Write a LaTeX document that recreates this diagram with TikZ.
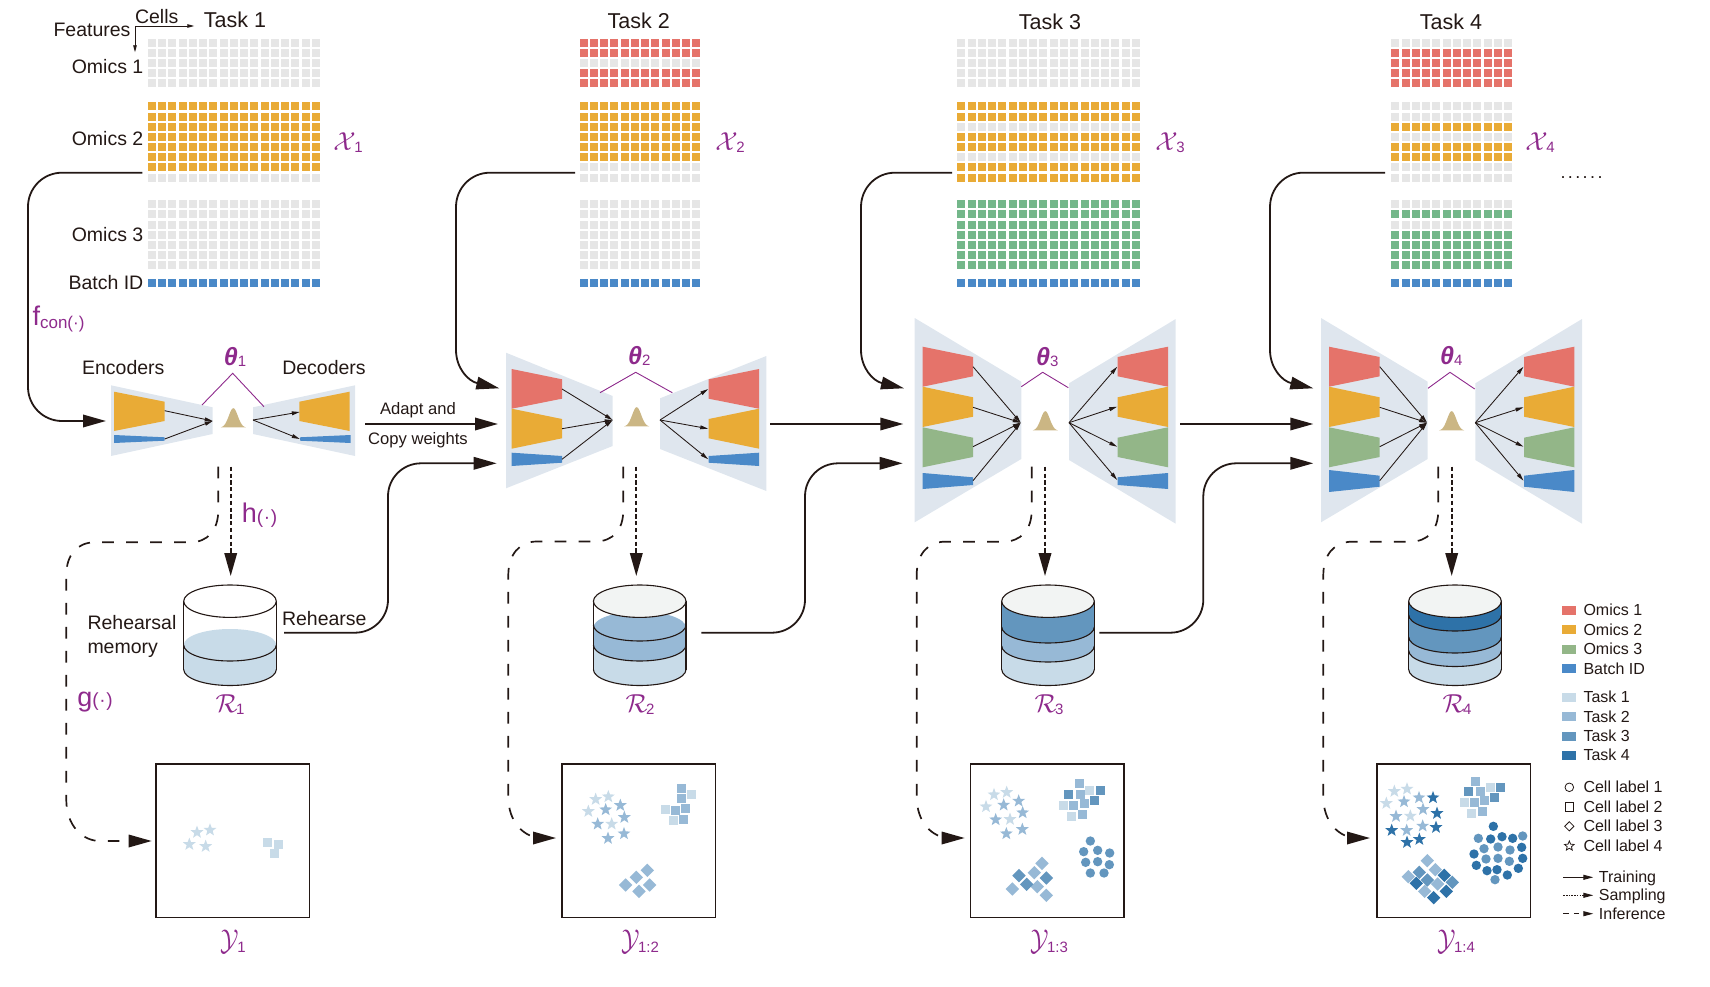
\documentclass[tikz,border=0pt]{standalone}
\usepackage{fontspec}
\usepackage{graphicx}
\setmainfont{Liberation Sans}
\usetikzlibrary{arrows.meta,shapes.geometric}
\definecolor{cg}{HTML}{E6E6E6}
\definecolor{co}{HTML}{E9AB36}
\definecolor{cr}{HTML}{E5736A}
\definecolor{cv}{HTML}{74B78A}
\definecolor{cb}{HTML}{4A89C8}
\definecolor{cgn}{HTML}{93B688}
\definecolor{bgp}{HTML}{DFE6EE}
\definecolor{gau}{HTML}{CBB684}
\definecolor{pur}{HTML}{8E2A8C}
\definecolor{ink}{HTML}{231815}
\definecolor{ta}{HTML}{C8DBE8}
\definecolor{tb}{HTML}{97B9D6}
\definecolor{tc}{HTML}{6396BE}
\definecolor{td}{HTML}{2E72A8}
\definecolor{cap}{HTML}{F2F4F3}
\newcommand\fs[2]{\fontsize{#1}{#2}\selectfont}
\newcommand\cellrow[4]{\foreach \ci in {1,...,#2}{\fill[#4] ({#1+(\ci-1)*10.27},{#3}) rectangle ++(8,8);}}
\newcommand\cellrows[5]{\foreach \cc [count=\k from 0] in {#5}{\cellrow{#1}{#2}{#3+\k*#4}{\cc}}}
\newcommand\matrixblock[6]{%
  \cellrows{#1}{#2}{39.1}{10.1}{#3}%
  \cellrows{#1}{#2}{102.4}{10.18}{#4}%
  \cellrows{#1}{#2}{200.1}{10.2}{#5}%
  \cellrow{#1}{#2}{279.2}{#6}}
\newcommand\trap[7]{\fill[#7] (#1,#3) -- (#2,#4) -- (#2,#5) -- (#1,#6) -- cycle;}
\newcommand\gauss[2]{\fill[gau] plot[domain=-1:1,samples=41,smooth] ({#1+12.5*\x},{#2-19.5*exp(-(\x*\x)/(2*0.36*0.36))}) -- cycle;}
\newcommand\cylfill[4]{%
  \fill[#4] (#1,#2) ellipse [x radius=46.3,y radius=16];
  \fill[#4] (#1,#3) ellipse [x radius=46.3,y radius=16];
  \fill[#4] ({#1-46.3},#2) rectangle ({#1+46.3},#3);}
\newcommand\cylarc[3][1.1]{\draw[ink,line width=#1] ({#2-46.3},#3) .. controls ({#2-46.3},{#3+8.84}) and ({#2-25.6},{#3+16}) .. ({#2},{#3+16}) .. controls ({#2+25.6},{#3+16}) and ({#2+46.3},{#3+8.84}) .. ({#2+46.3},#3);}
\newcommand\cylshell[2]{%
  \cylarc{#1}{669.5}
  \draw[ink,line width=1.1] ({#1-46.3},601.2) -- ({#1-46.3},669.5) ({#1+46.3},601.2) -- ({#1+46.3},669.5);
  \draw[ink,line width=1.1,fill=#2] (#1,601.2) ellipse [x radius=46.3,y radius=16.2];}
\newcommand\scat[6]{\foreach \a/\b in {#6}{\node[#1,fill=#2] (p#1#3\a-\b) at ({#3+\a/3},{#4+\b/#5}) {};}}
\newcommand\callab[3]{\scalebox{#1}{$\mathcal{#2}$}\kern-1.5pt\raisebox{-2pt}{\fs{15}{15}#3}}
\newcommand\ylab[1]{\scalebox{2.45}[3]{$\mathcal{Y}$}\kern-1.5pt\raisebox{-2pt}{\fs{15}{15}#1}}
\newcommand\thetalab[1]{{\fs{25}{25}\bfseries\itshape θ}\raisebox{-1pt}{\fs{15}{15}#1}}
\tikzset{
  x=1pt,y=-1pt,
  lab/.style={font=\fs{19.5}{24},text=ink,inner sep=0pt,text height=14pt,text depth=0pt},
  adapt/.style={font=\fs{16.6}{20},text=ink,inner sep=0pt},
  tasklab/.style={font=\fs{21.5}{24},text=ink,inner sep=0pt,text height=15.4pt,text depth=0pt},
  leg/.style={font=\fs{16}{20},text=ink,inner sep=0pt,anchor=west,text height=11.6pt,text depth=1pt},
  purp/.style={text=pur,inner sep=0pt},
  flow/.style={draw=ink,line width=1.8,-{Triangle[length=23,width=12.5]}},
  infer/.style={draw=ink,line width=1.7,dash pattern=on 11.7 off 12.3,-{Triangle[length=23,width=12.5]}},
  sampl/.style={draw=ink,line width=1.9,dash pattern=on 4.2 off 2.6,-{Triangle[length=23,width=12.5]}},
  small/.style={draw=ink,line width=0.85,-{Triangle[length=8,width=3.8]}},
  thetaline/.style={draw=pur,line width=0.9},
  axis/.style={draw=ink,line width=0.9,-{Triangle[length=7,width=3.5]}},
  boxy/.style={draw=ink,line width=1.4},
  pstar/.style={star,star points=5,star point ratio=2.4,minimum size=13.5,inner sep=0pt},
  psq/.style={rectangle,minimum size=9.4,inner sep=0pt},
  pdia/.style={diamond,aspect=1,minimum size=13.6,inner sep=0pt},
  pcir/.style={circle,minimum size=9.4,inner sep=0pt},
  lgsym/.style={draw=ink,line width=0.8,inner sep=0pt,fill=white},
  legline/.style={draw=ink,line width=0.9,-{Triangle[length=10,width=5]}}
}
\begin{document}
\begin{tikzpicture}
\useasboundingbox (0,0) rectangle (1710,987);
% ---------- matrices
\matrixblock{147.7}{17}{cg,cg,cg,cg,cg}{co,co,co,co,co,co,co,cg}{cg,cg,cg,cg,cg,cg,cg}{cb}
\matrixblock{579.5}{12}{cr,cr,cg,cr,cr}{co,co,co,co,co,co,cg,cg}{cg,cg,cg,cg,cg,cg,cg}{cb}
\matrixblock{957.3}{18}{cg,cg,cg,cg,cg}{co,co,cg,co,co,cg,co,co}{cv,cv,cv,cv,cv,cv,cv}{cb}
\matrixblock{1391.3}{12}{cg,cr,cr,cr,cr}{cg,cg,co,cg,co,co,cg,cg}{cg,cv,cg,cv,cv,cv,cv}{cb}
% ---------- top labels
\node[lab] (cells) at (156.7,17) {Cells};
\node[lab] (feat) at (92,29.3) {Features};
\coordinate (ax) at (135,26);
\coordinate (axr) at (194.3,26);
\coordinate (axd) at (135,52.3);
\draw[axis] (ax) -- (axr);
\draw[axis] (ax) -- (axd);
\node[tasklab] (task1) at (235,20) {Task 1};
\node[tasklab] (task2) at (638.7,21) {Task 2};
\node[tasklab] (task3) at (1050,22) {Task 3};
\node[tasklab] (task4) at (1451,22) {Task 4};
\node[lab,anchor=east] (om1) at (143.5,67) {Omics 1};
\node[lab,anchor=east] (om2) at (143.5,138.3) {Omics 2};
\node[lab,anchor=east] (om3) at (143.5,234) {Omics 3};
\node[lab,anchor=east] (bid) at (143.5,282) {Batch ID};
\node[purp] (x1) at (348,143) {\callab{2.6}{X}{1}};
\node[purp] (x2) at (730,143) {\callab{2.6}{X}{2}};
\node[purp] (x3) at (1170,143) {\callab{2.6}{X}{3}};
\node[purp] (x4) at (1540,143) {\callab{2.6}{X}{4}};
\node[inner sep=0pt,text=ink,font=\fs{18}{18}] (dots) at (1581.5,178) {.\kern2.4pt.\kern2.4pt.\kern2.4pt.\kern2.4pt.\kern2.4pt.};
% ---------- network 1
\fill[bgp] (111,385.3) -- (212.7,407.3) -- (212.7,434) -- (111,456) -- cycle;
\fill[bgp] (253,407.3) -- (355,385.3) -- (355,456) -- (253,434) -- cycle;
\trap{114}{164.7}{391.7}{401.7}{421}{431}{co}
\trap{114}{164.7}{435}{437.3}{440.7}{443}{cb}
\trap{349.7}{299.3}{391.7}{401.7}{421}{431}{co}
\trap{350.7}{300}{435}{437.3}{440.7}{443}{cb}
\coordinate (z1) at (212.7,421);
\coordinate (o1) at (253,420);
\foreach \y [count=\i] in {410.7,439}{\coordinate (ea\i) at (164.7,\y); \draw[small] (ea\i) -- (z1);}
\foreach \y [count=\i] in {412,439}{\coordinate (da\i) at (299.8,\y); \draw[small] (o1) -- (da\i);}
\gauss{233.3}{427.7}
\draw[thetaline] (202,405) -- (232.7,373.3) -- (264,406.7);
\node[purp] (th1) at (235,356.7) {\thetalab{1}};
\node[lab] (enc) at (123.3,367.3) {Encoders};
\node[lab] (dec) at (324,367.3) {Decoders};
% ---------- network 2
\fill[bgp] (506,352.7) -- (612.7,396) -- (612.7,446) -- (506,488.3) -- cycle;
\fill[bgp] (660,398.3) -- (766.3,356) -- (766.3,491) -- (660,449) -- cycle;
\trap{511.7}{562}{369}{379.3}{398.7}{408.7}{cr}
\trap{511.7}{562}{408.7}{419}{438.3}{448.7}{co}
\trap{511.7}{562}{452.7}{456}{462.7}{466}{cb}
\trap{759}{708.7}{369}{379.3}{398.7}{408.7}{cr}
\trap{759}{708.7}{408.7}{419}{438.3}{448.7}{co}
\trap{759}{708.7}{452.7}{456}{462.7}{466}{cb}
\coordinate (z2) at (612.7,420);
\coordinate (o2) at (660,420);
\foreach \y [count=\i] in {389,428.7,459.3}{\coordinate (eb\i) at (562,\y); \draw[small] (eb\i) -- (z2);}
\foreach \y [count=\i] in {389,428.7,459.3}{\coordinate (db\i) at (708.2,\y); \draw[small] (o2) -- (db\i);}
\gauss{636.7}{426.7}
\draw[thetaline] (600,392.7) -- (635.7,372.3) -- (672.3,392.7);
\node[purp] (th2) at (639.3,355.7) {\thetalab{2}};
% ---------- network 3
\fill[bgp] (914.7,318) -- (1021.3,381.7) -- (1021.3,459) -- (914.7,522.3) -- cycle;
\fill[bgp] (1069,383.3) -- (1175.7,319) -- (1175.7,523.7) -- (1069,460) -- cycle;
\trap{922.7}{973}{346.7}{357}{376.3}{386.7}{cr}
\trap{922.7}{973}{386.7}{397.3}{416.7}{427}{co}
\trap{922.7}{973}{427.3}{437.7}{457}{467.3}{cgn}
\trap{922.7}{973}{473}{477.3}{485}{489}{cb}
\trap{1168}{1117.7}{346.7}{357}{376.3}{386.7}{cr}
\trap{1168}{1117.7}{386.7}{397.3}{416.7}{427}{co}
\trap{1168}{1117.7}{427.3}{437.7}{457}{467.3}{cgn}
\trap{1168}{1117.7}{473}{477.3}{485}{489}{cb}
\coordinate (z3) at (1020.7,422.7);
\coordinate (o3) at (1069,422.7);
\foreach \y [count=\i] in {366.7,407.3,446.7,480.7}{\coordinate (ec\i) at (973,\y); \draw[small] (ec\i) -- (z3);}
\foreach \y [count=\i] in {366.7,406.7,446.7,480}{\coordinate (dc\i) at (1117.2,\y); \draw[small] (o3) -- (dc\i);}
\gauss{1045.3}{430.7}
\draw[thetaline] (1021.3,386.7) -- (1042.7,372.3) -- (1068.3,387.7);
\node[purp] (th3) at (1047.3,356.7) {\thetalab{3}};
% ---------- network 4
\fill[bgp] (1321,318) -- (1427.7,381.7) -- (1427.7,459) -- (1321,522.3) -- cycle;
\fill[bgp] (1475.3,383.3) -- (1582,319) -- (1582,523.7) -- (1475.3,460) -- cycle;
\trap{1329}{1379.7}{346.7}{357}{376.3}{386.7}{cr}
\trap{1329}{1379.7}{386.7}{397.3}{416.7}{427}{co}
\trap{1329}{1379.7}{427.3}{437.7}{457}{467.3}{cgn}
\trap{1329}{1379.7}{470}{475.7}{486.7}{492}{cb}
\trap{1574.3}{1524}{346.7}{357}{376.3}{386.7}{cr}
\trap{1574.3}{1524}{386.7}{397.3}{416.7}{427}{co}
\trap{1574.3}{1524}{427.3}{437.7}{457}{467.3}{cgn}
\trap{1574.3}{1524}{470}{475.7}{486.7}{492}{cb}
\coordinate (z4) at (1427,422.7);
\coordinate (o4) at (1475.3,422.7);
\foreach \y [count=\i] in {366.7,407.3,446.7,480.7}{\coordinate (ed\i) at (1379.7,\y); \draw[small] (ed\i) -- (z4);}
\foreach \y [count=\i] in {366.7,407.3,446.7,480.7}{\coordinate (dd\i) at (1523.5,\y); \draw[small] (o4) -- (dd\i);}
\gauss{1451.7}{430.7}
\draw[thetaline] (1428,388.3) -- (1450,372.3) -- (1474.7,389);
\node[purp] (th4) at (1451.3,356) {\thetalab{4}};
% ---------- cylinders
\cylfill{230}{645}{669.5}{ta}
\cylfill{639.7}{645}{669.5}{ta}
\cylfill{639.7}{627.5}{645}{tb}
\cylfill{1048}{646}{669.5}{ta}
\cylfill{1048}{627}{646}{tb}
\cylfill{1048}{601.2}{627}{tc}
\cylfill{1455}{650.5}{669.5}{ta}
\cylfill{1455}{637}{650.5}{tb}
\cylfill{1455}{615}{637}{tc}
\cylfill{1455}{601.2}{615}{td}
\cylarc{230}{645}
\cylarc{639.7}{645}
\cylarc{639.7}{625}
\cylarc{1048}{646}
\cylarc{1048}{627}
\cylarc{1455}{650.5}
\cylarc{1455}{637}
\cylarc{1455}{615}
\cylshell{230}{white}
\cylshell{639.7}{cap}
\cylshell{1048}{cap}
\cylshell{1455}{cap}
\node[purp] (r1) at (230,705) {\callab{2.6}{R}{1}};
\node[purp] (r2) at (640,705) {\callab{2.6}{R}{2}};
\node[purp] (r3) at (1049,705) {\callab{2.6}{R}{3}};
\node[purp] (r4) at (1457,705) {\callab{2.6}{R}{4}};
\node[lab,anchor=west,align=left,text height=,text depth=] (rm) at (87.3,636) {Rehearsal\\memory};
\node[lab] (reh) at (324.3,618) {Rehearse};
% ---------- output boxes
\draw[boxy] (156,764) rectangle (309.7,917.7);
\draw[boxy] (562,764) rectangle (715.7,917.7);
\draw[boxy] (970.3,764) rectangle (1124,917.7);
\draw[boxy] (1377,764) rectangle (1530.7,917.7);
\node[purp] (y1) at (233,941.7) {\ylab{1}};
\node[purp] (y2) at (640,941.7) {\ylab{1:2}};
\node[purp] (y3) at (1049,941.7) {\ylab{1:3}};
\node[purp] (y4) at (1456,941.7) {\ylab{1:4}};
% scatter 1
\scat{pstar}{ta}{40}{680}{3}{471/457,510/450,448/493,497/499}
\scat{psq}{ta}{40}{680}{3}{683/487,715/493,703/520}
% scatter 2
\scat{pstar}{ta}{550}{750}{3}{137/148,175/140,115/184,185/222}
\scat{pstar}{tb}{550}{750}{3}{211/166,167/179,223/202,143/222,222/251,174/265}
\scat{psq}{ta}{550}{750}{3}{424/133,346/178,370/211}
\scat{psq}{tb}{550}{750}{3}{394/115,394/145,406/175,376/181,400/208}
\scat{pdia}{tb}{550}{750}{3}{292/361,259/382,227/405,299/405,267/424}
% scatter 3
\scat{pstar}{ta}{960}{750}{3}{102/134,140/127,78/170,150/208}
\scat{pstar}{tb}{960}{750}{3}{176/153,131/165,188/188,107/209,187/238,139/251}
\scat{psq}{ta}{960}{750}{3}{388/121,310/166,334/199}
\scat{psq}{tb}{960}{750}{3}{358/100,361/133,373/160,340/166,367/193}
\scat{psq}{tc}{960}{750}{3}{325/133,421/121,403/151}
\scat{pdia}{tb}{960}{750}{3}{246/340,223/368,232/410,157/417,259/436}
\scat{pdia}{tc}{960}{750}{3}{177/377,259/384,200/403}
\scat{pcir}{tc}{960}{750}{3}{391/273,371/305,413/301,449/309,377/337,413/335,448/344,391/369,432/369}
% scatter 4
\scat{pstar}{ta}{1370}{750}{3}{73/124,111/117,49/160,121/198}
\scat{pstar}{tb}{1370}{750}{3}{147/143,102/155,159/178,78/199,158/228,110/241}
\scat{pstar}{td}{1370}{750}{3}{189/143,201/190,198/232,65/241,111/277,148/268}
\scat{psq}{ta}{1370}{750}{3}{361/112,283/157,304/190}
\scat{psq}{tb}{1370}{750}{3}{316/94,331/124,343/151,313/157,337/184}
\scat{psq}{tc}{1370}{750}{3}{295/124,391/112,373/142}
\scat{pdia}{tb}{1370}{750}{3}{172/332,196/359,115/380,203/402,164/424}
\scat{pdia}{tc}{1370}{750}{3}{148/367,172/390,247/397}
\scat{pdia}{td}{1370}{750}{3}{223/376,139/400,229/424,191/443}
\scat{pcir}{tc}{1370}{750}{3}{325/265,458/258,342/296,384/291,420/300,348/327,384/325,418/334,375/389}
\scat{pcir}{td}{1370}{750}{3}{370/229,362/267,396/260,428/265,455/292,312/312,458/325,319/346,351/362,381/359,445/355,412/375}
% ---------- training arrows
\coordinate (s1) at (142.3,172.7);
\coordinate (t1) at (106,421);
\coordinate (s2) at (575,172.7);
\coordinate (t2) at (499.3,388.3);
\coordinate (s3) at (952,172.7);
\coordinate (t3) at (904,388.3);
\coordinate (s4) at (1385,172.7);
\coordinate (t4) at (1313.3,388.3);
\draw[flow,rounded corners=34] (s1) -- (28,172.7) -- (28,421) -- (t1);
\draw[flow] (s2) -- (490,172.7) .. controls (471,172.7) and (456,188) .. (456,207) -- (456,350) .. controls (456,368) and (468,381) .. (t2);
\draw[flow] (s3) -- (895,172.7) .. controls (876,172.7) and (861,188) .. (861,207) -- (861,350) .. controls (861,368) and (873,381) .. (t3);
\draw[flow] (s4) -- (1303,172.7) .. controls (1285,172.7) and (1270,188) .. (1270,207) -- (1270,350) .. controls (1270,368) and (1282,381) .. (t4);
\coordinate (a1) at (365.3,424);
\coordinate (b1) at (498,424);
\coordinate (a2) at (770.3,424);
\coordinate (b2) at (903.3,424);
\coordinate (a3) at (1180,424);
\coordinate (b3) at (1313.3,424);
\draw[flow] (a1) -- (b1);
\draw[flow] (a2) -- (b2);
\draw[flow] (a3) -- (b3);
\node[adapt] (adp) at (418,410.5) {Adapt and};
\node[adapt] (cpw) at (418,440.5) {Copy weights};
\coordinate (c1) at (284,632.7);
\coordinate (q1) at (496.7,463.3);
\coordinate (c2) at (701.3,632.7);
\coordinate (q2) at (902.7,463.3);
\coordinate (c3) at (1099.3,632.7);
\coordinate (q3) at (1313.3,463.3);
\draw[flow,rounded corners=33] (c1) -- (388,632.7) -- (388,463.3) -- (q1);
\draw[flow,rounded corners=33] (c2) -- (805,632.7) -- (805,463.3) -- (q2);
\draw[flow,rounded corners=33] (c3) -- (1203.3,632.7) -- (1203.3,463.3) -- (q3);
% ---------- sampling arrows
\coordinate (h1a) at (230.7,466.7);
\coordinate (h1b) at (230.7,576);
\coordinate (h2a) at (636.3,466.7);
\coordinate (h2b) at (636.3,576);
\coordinate (h3a) at (1045,466.7);
\coordinate (h3b) at (1045,576);
\coordinate (h4a) at (1451.7,466.7);
\coordinate (h4b) at (1451.7,576);
\draw[sampl] (h1a) -- (h1b);
\draw[sampl] (h2a) -- (h2b);
\draw[sampl] (h3a) -- (h3b);
\draw[sampl] (h4a) -- (h4b);
% ---------- inference arrows
\coordinate (g1a) at (218.3,466.7);
\coordinate (g1b) at (151.7,841);
\coordinate (g2a) at (623.3,466.7);
\coordinate (g2b) at (556,838);
\coordinate (g3a) at (1031.7,466.7);
\coordinate (g3b) at (964.7,838);
\coordinate (g4a) at (1438.3,466.7);
\coordinate (g4b) at (1370,838);
\draw[infer] (g1a) -- (218.3,510) .. controls (218.3,530) and (208,542.3) .. (190,542.3) -- (95,542.3) .. controls (77,542.3) and (66.3,555) .. (66.3,575) -- (66.3,800) .. controls (66.3,825) and (82,841) .. (100,841) -- (g1b);
\draw[infer] (g2a) -- (623.3,510) .. controls (623.3,530) and (613,541.5) .. (595,541.5) -- (537,541.5) .. controls (519,541.5) and (508.3,555) .. (508.3,575) -- (508.3,797) .. controls (508.3,822) and (524,838) .. (542,838) -- (g2b);
\draw[infer] (g3a) -- (1031.7,510) .. controls (1031.7,530) and (1021,541.7) .. (1003,541.7) -- (945,541.7) .. controls (927,541.7) and (916.7,555) .. (916.7,575) -- (916.7,797) .. controls (916.7,822) and (932,838) .. (950,838) -- (g3b);
\draw[infer] (g4a) -- (1438.3,510) .. controls (1438.3,530) and (1428,541.7) .. (1410,541.7) -- (1352,541.7) .. controls (1334,541.7) and (1323.3,555) .. (1323.3,575) -- (1323.3,797) .. controls (1323.3,822) and (1339,838) .. (1357,838) -- (g4b);
% ---------- function labels
\node[purp] (fc) at (58.5,319) {{\fs{27}{27}f}\raisebox{-2.5pt}{\fs{17}{17}con(·)}};
\node[purp] (hl) at (259.5,515) {{\fs{27}{27}h}\raisebox{-1pt}{\fs{19}{19}(\kern.7pt·\kern.7pt)}};
\node[purp] (gl) at (95,701.7) {{\fs{27}{27}g}\raisebox{0pt}{\fs{19}{19}(\kern.7pt·\kern.7pt)}};
% ---------- legend
\foreach \y/\c/\t [count=\i] in {610.3/cr/Omics 1,629.7/co/Omics 2,649.3/cgn/Omics 3,668.7/cb/Batch ID,697.3/ta/Task 1,716.7/tb/Task 2,736/tc/Task 3,755.3/td/Task 4}{
  \fill[\c] (1562,{\y-4.5}) rectangle (1576,{\y+4.5});
  \node[leg] (lg\i) at (1583.3,\y) {\t};
}
\node[leg] (lc1) at (1583.3,787.3) {Cell label 1};
\node[leg] (lc2) at (1583.3,807) {Cell label 2};
\node[leg] (lc3) at (1583.3,826.3) {Cell label 3};
\node[leg] (lc4) at (1583.3,846) {Cell label 4};
\node[lgsym,circle,minimum size=8.6] (sy1) at (1569.3,787.3) {};
\node[lgsym,rectangle,minimum size=8.6] (sy2) at (1569.3,807) {};
\node[lgsym,diamond,aspect=1,minimum size=9.5] (sy3) at (1569.3,826.3) {};
\node[lgsym,star,star points=5,star point ratio=2.2,minimum size=10] (sy4) at (1569.3,846) {};
\coordinate (la1) at (1563.3,877.3);
\coordinate (lb1) at (1593.3,877.3);
\coordinate (la2) at (1563.3,895.3);
\coordinate (lb2) at (1593.3,895.3);
\coordinate (la3) at (1563.3,913.7);
\coordinate (lb3) at (1593.3,913.7);
\draw[legline] (la1) -- (lb1);
\draw[legline,dash pattern=on 1.5 off 1.2] (la2) -- (lb2);
\draw[legline,dash pattern=on 5.5 off 5] (la3) -- (lb3);
\node[leg] (ll1) at (1598.7,877.3) {Training};
\node[leg] (ll2) at (1598.7,895.3) {Sampling};
\node[leg] (ll3) at (1598.7,913.7) {Inference};
\end{tikzpicture}
\end{document}
